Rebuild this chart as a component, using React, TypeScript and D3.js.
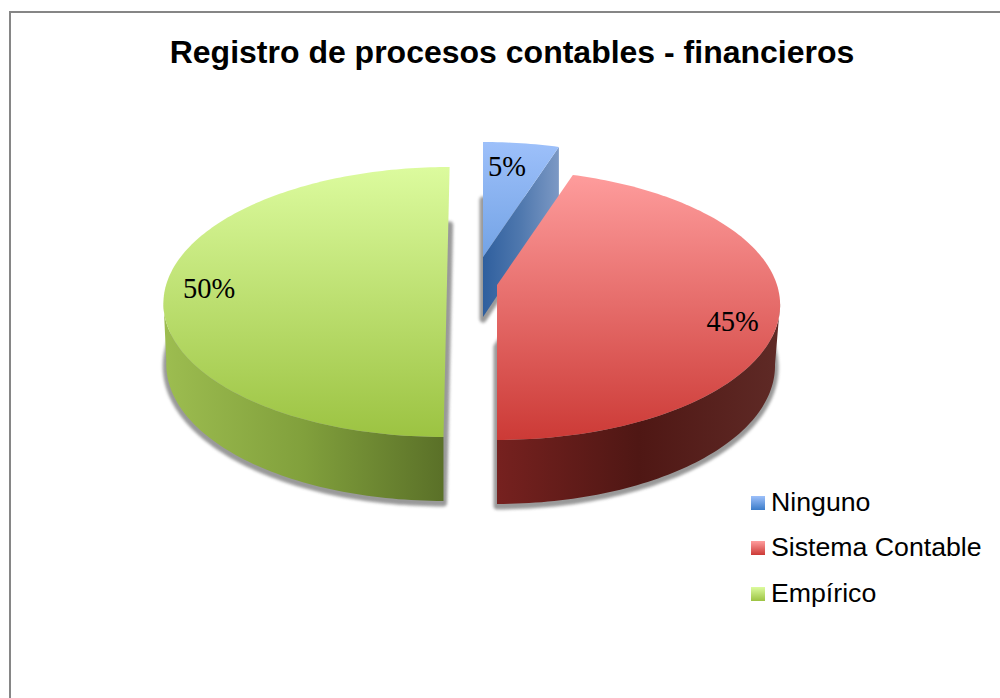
import React from "react";
import * as d3 from "d3";

const title = "Registro de procesos contables - financieros";
const categories = ["Ninguno", "Sistema Contable", "Empírico"];
const values = [5, 45, 50];
const labels = ["5%", "45%", "50%"];

const W = 1000, H = 698;
const RX = 280, RY = 132, K = 0.148;
const TAU = Math.PI * 2;

type Layout = {
  cx: number; cy: number; tilt: number;
  top: [string, string]; wall: [string, string, string];
  wx: [number, number];
  arc?: [number, number];
  label: [number, number];
  legendY: number;
  shrink: number;
};
const layouts: Layout[] = [
  { cx: 483, cy: 257, tilt: 0, shrink: 1, top: ["#9dc0fa", "#3b7cc9"], wall: ["#2f5f9e", "#4f78ae", "#7b98c4"], wx: [483, 558], label: [507, 176], legendY: 496 },
  { cx: 497, cy: 285, tilt: 0, shrink: 0.982, top: ["#ff9e9e", "#cc3a36"], wall: ["#76211f", "#4f1714", "#5f2a26"], wx: [497, 780], arc: [98, 180], label: [732.5, 331], legendY: 541 },
  { cx: 447, cy: 282, tilt: -3, shrink: 0.99, top: ["#dcfb9e", "#9cc342"], wall: ["#5a7028", "#81a03c", "#9dbd50"], wx: [444, 163], arc: [180, 262], label: [209, 298], legendY: 587 },
];

const depthAt = (v: number) => 60 + 4 * v;

function project(l: Layout, theta: number, r: number, bottom: boolean): [number, number] {
  const u = Math.sin(theta) * r;
  const v = -Math.cos(theta) * r;
  const w = 1 - K * v;
  const shrink = bottom ? l.shrink : 1;
  const x = l.cx + (RX * u * shrink) / w + (l.tilt * v) / w;
  const y = l.cy + (RY * v) / w + (bottom ? depthAt(v) : 0);
  return [x, y];
}

const line = d3.line<[number, number]>().x(d => d[0]).y(d => d[1]);

function rim(l: Layout, a0: number, a1: number, bottom: boolean): [number, number][] {
  const n = Math.max(2, Math.ceil(Math.abs(a1 - a0) / 0.02));
  return d3.range(n + 1).map(i => project(l, a0 + ((a1 - a0) * i) / n, 1, bottom));
}

function facePath(l: Layout, a0: number, a1: number, bottom: boolean) {
  return line([project(l, 0, 0, bottom), ...rim(l, a0, a1, bottom)]) + "Z";
}

const arcs = d3.pie<number>().sort(null).startAngle(0).endAngle(TAU)(values);

export default function App() {
  const order = [2, 0, 1];
  return (
    <svg width={W} height={H} viewBox={`0 0 ${W} ${H}`} style={{ position: "absolute", left: 0, top: 0, background: "#fff" }}>
      <defs>
        <filter id="soft" x="-10%" y="-10%" width="120%" height="120%">
          <feGaussianBlur stdDeviation="1.8" />
        </filter>
        {layouts.map((l, i) => {
          const [y0, y1] = [l.cy - 115, l.cy + 155];
          return (
            <React.Fragment key={i}>
              <linearGradient id={`top${i}`} gradientUnits="userSpaceOnUse" x1={0} x2={0} y1={y0} y2={y1}>
                <stop offset="0" stopColor={l.top[0]} />
                <stop offset="1" stopColor={l.top[1]} />
              </linearGradient>
              <linearGradient id={`wall${i}`} gradientUnits="userSpaceOnUse" x1={l.wx[0]} x2={l.wx[1]} y1={0} y2={0}>
                <stop offset="0" stopColor={l.wall[0]} />
                <stop offset="0.5" stopColor={l.wall[1]} />
                <stop offset="1" stopColor={l.wall[2]} />
              </linearGradient>
              <linearGradient id={`leg${i}`} x1={0} x2={0} y1={0} y2={1}>
                <stop offset="0" stopColor={l.top[0]} />
                <stop offset="1" stopColor={l.top[1]} />
              </linearGradient>
            </React.Fragment>
          );
        })}
      </defs>
      <path d={`M10 ${H}V12H${W}`} fill="none" stroke="#868686" strokeWidth={2} />
      <text x={512} y={63} textAnchor="middle" fontFamily="Liberation Sans" fontWeight="bold" fontSize={32} fill="#000">{title}</text>

      {order.map(i => {
        const l = layouts[i];
        const a = arcs[i];
        return (
          <g key={i}>
            <path
              d={facePath(l, a.startAngle, a.endAngle, true)}
              transform="translate(0 2)"
              fill="#777"
              stroke="#777"
              strokeWidth={7}
              strokeLinejoin="round"
              opacity={0.75}
              filter="url(#soft)"
            />
            {l.arc ? (
              <path
                d={line([
                  ...rim(l, (l.arc[0] * Math.PI) / 180, (l.arc[1] * Math.PI) / 180, false),
                  ...rim(l, (l.arc[1] * Math.PI) / 180, (l.arc[0] * Math.PI) / 180, true),
                ]) + "Z"}
                fill={`url(#wall${i})`}
              />
            ) : (
              <path
                d={line([
                  project(l, 0, 0, false),
                  project(l, a.endAngle, 1, false),
                  project(l, a.endAngle, 1, true),
                  project(l, 0, 0, true),
                ]) + "Z"}
                fill={`url(#wall${i})`}
              />
            )}
            <path d={facePath(l, a.startAngle, a.endAngle, false)} fill={`url(#top${i})`} />
          </g>
        );
      })}

      {labels.map((t, i) => (
        <text key={t} x={layouts[i].label[0]} y={layouts[i].label[1]} textAnchor="middle" fontFamily="Liberation Serif" fontSize={28.5} fill="#000">{t}</text>
      ))}

      {categories.map((c, i) => (
        <g key={c}>
          <rect x={751} y={layouts[i].legendY} width={14} height={14} fill={`url(#leg${i})`} />
          <text x={771} y={layouts[i].legendY + 15} fontFamily="Liberation Sans" fontSize={26.7} fill="#000">{c}</text>
        </g>
      ))}
    </svg>
  );
}
